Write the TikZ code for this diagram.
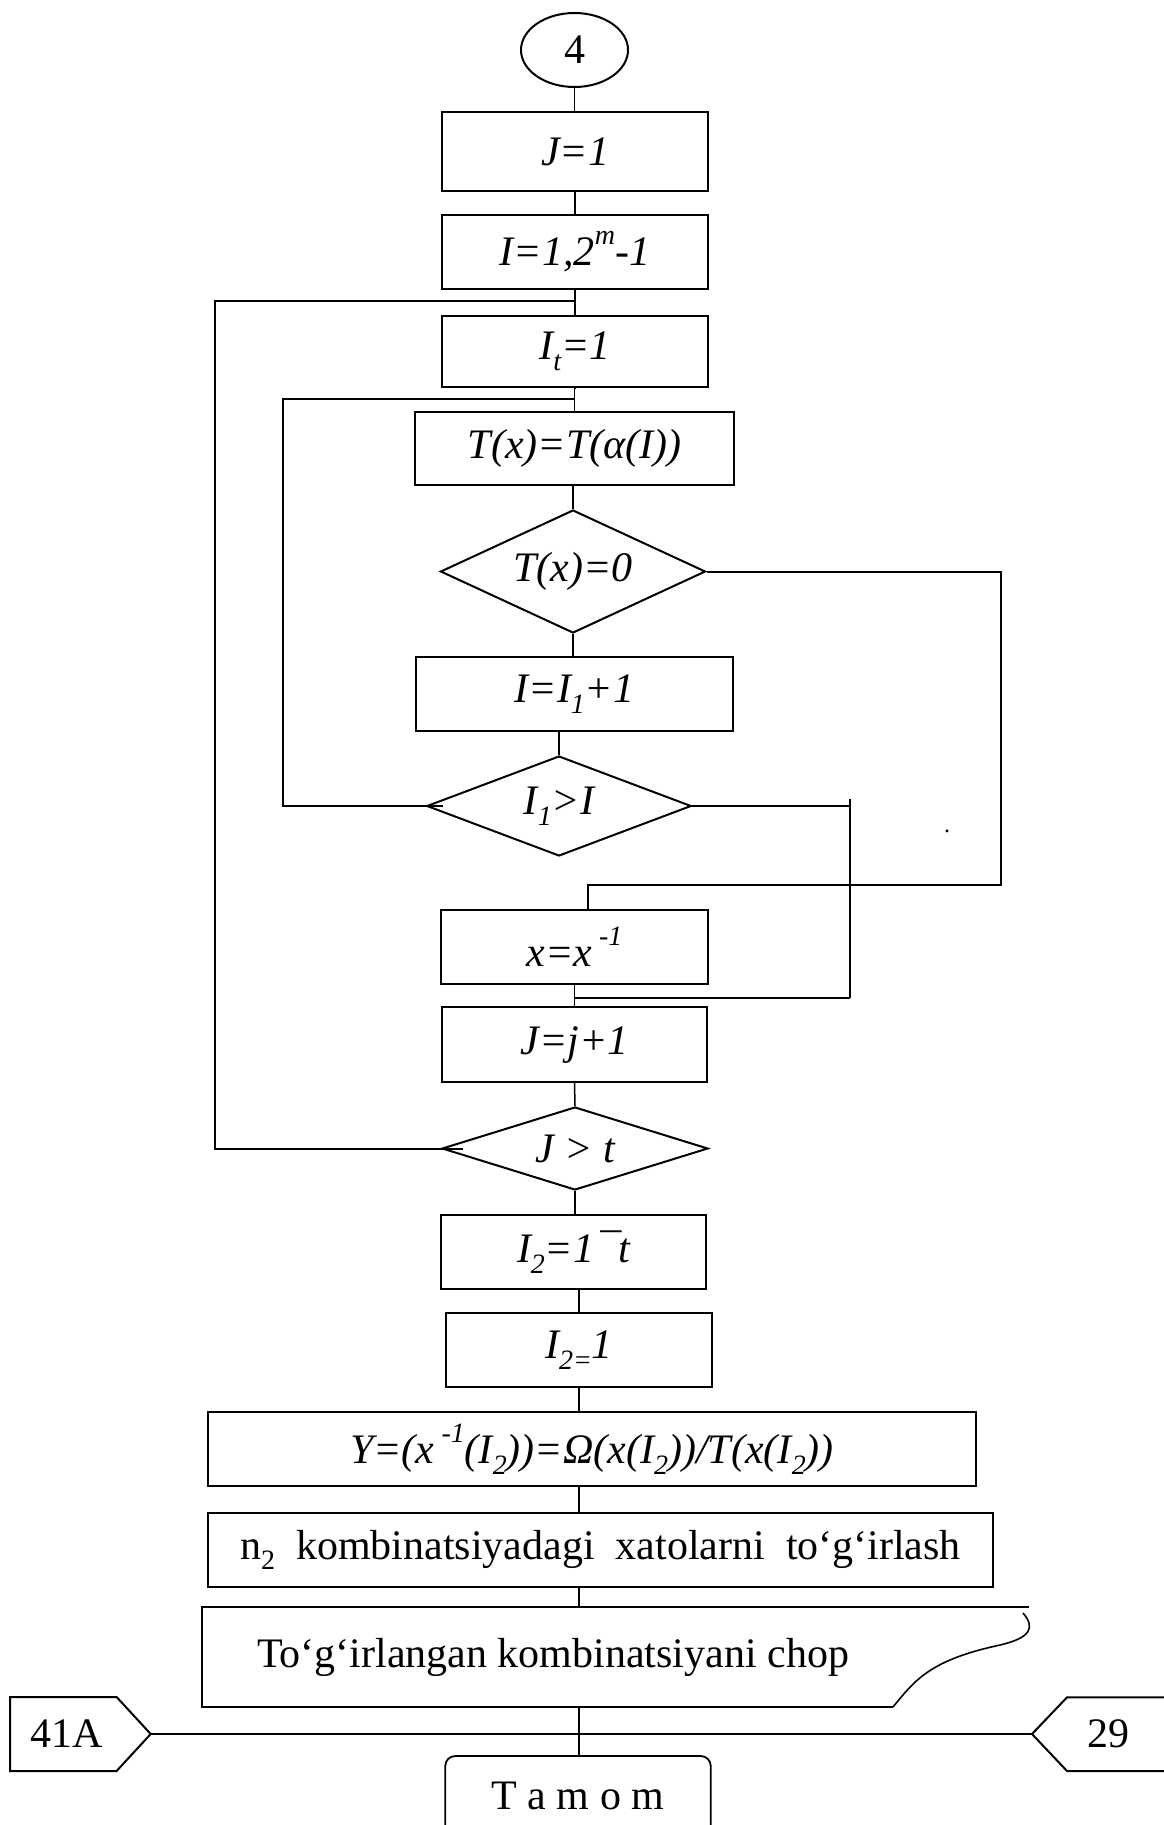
\documentclass[tikz,border=0pt]{standalone}
\usepackage{fontspec}
\setmainfont{Liberation Serif}
\usetikzlibrary{shapes.geometric}
\newcommand{\subx}[1]{\raisebox{-0.25em}{\fontsize{28}{28}\selectfont #1}}
\newcommand{\supx}[1]{\raisebox{0.5em}{\fontsize{28}{28}\selectfont #1}}
\begin{document}
\begin{tikzpicture}[x=1pt,y=-1pt,
  every node/.style={font=\fontsize{42}{46}\selectfont, inner sep=0pt},
  box/.style={draw, line width=2pt, rectangle, minimum width=266pt, minimum height=76pt},
  dia/.style={draw, line width=2pt, diamond},
  conn/.style={line width=1.5pt},
  lp/.style={line width=2pt}]
\useasboundingbox (0,0) rectangle (1164,1825);
\fill[white] (0,0) rectangle (1164,1825);
\clip (0,0) rectangle (1164,1825);

% nodes
\node[draw, line width=2pt, ellipse, minimum width=107pt, minimum height=74pt] (n4) at (574.5,50) {4};
\node[box, minimum height=79pt] (j1) at (575,151.5) {\itshape J=1};
\node[box, minimum height=74pt] (ii) at (575,252) {\itshape I=1,2\supx{m}-1};
\node[box, minimum height=71pt] (it) at (575,351.5) {\itshape I\subx{t}=1};
\node[box, minimum width=319pt, minimum height=73pt] (tx) at (574.5,448.5) {\itshape T(x)=T(α(I))};
\node[dia, minimum width=265pt, minimum height=123pt, shape aspect=2.15] (d1) at (573,571.5) {\itshape T(x)=0};
\node[box, minimum width=317pt, minimum height=74pt] (ii1) at (574.5,694) {\itshape I=I\subx{1}+1};
\node[dia, minimum width=264.5pt, minimum height=100pt, shape aspect=2.64] (d2) at (559,806) {\itshape I\subx{1}>I};
\node[box, minimum width=267pt, minimum height=74pt] (xx) at (574.5,947) {\itshape x=x\,\supx{-1}};
\node[box, minimum width=265pt, minimum height=74.5pt] (jj) at (574.5,1044.7) {\itshape J=j+1};
\node[dia, minimum width=266pt, minimum height=83pt, shape aspect=3.2] (d3) at (575,1148.5) {\itshape J > t};
\node[box, minimum width=265pt, minimum height=74pt] (i2t) at (573.5,1252) {\itshape I\subx{2}=1\kern3pt¯t};
\node[box, minimum width=266pt, minimum height=74pt] (i21) at (579,1350) {\itshape I\subx{2=}1};
\node[box, minimum width=768pt, minimum height=74pt] (yy) at (592,1449) {\itshape Y=(x\,\supx{-1}(I\subx{2}))=Ω(x(I\subx{2}))/T(x(I\subx{2}))};
\node[box, minimum width=785pt, minimum height=74pt] (n2) at (600.5,1550) {n\subx{2}\ \ kombinatsiyadagi\ \ xatolarni\ \ to‘g‘irlash};

% document (print) shape
\draw[line width=2pt] (1029,1607) -- (202,1607) -- (202,1707) -- (893,1707);
\draw[line width=1.6pt] (1023,1613) .. controls (1036,1628) and (1030,1638) .. (1000,1645)
   .. controls (930,1660) and (915,1680) .. (893,1707);
\node[anchor=base] (doc) at (553,1667) {To‘g‘irlangan kombinatsiyani chop};
\coordinate (doctop) at (579,1607);
\coordinate (docbot) at (579,1707);

% terminal
\node[draw, line width=1.8pt, rounded corners=10pt, minimum width=265.5pt, minimum height=80pt] (tam) at (578,1796) {T a m o m};

% off-page connectors
\draw[line width=2pt] (10,1697) -- (116.6,1697) -- (150.7,1734) -- (116.6,1771) -- (10,1771) -- cycle;
\node (c41) at (67,1734) {41A};
\coordinate (c41p) at (150.7,1734);
\draw[line width=2pt] (1170,1697.3) -- (1067,1697.3) -- (1032,1734) -- (1067,1771) -- (1170,1771);
\node (c29) at (1108,1734) {29};
\coordinate (c29p) at (1032,1734);

% stray dot
\node[anchor=base, font=\fontsize{24}{24}\selectfont] (dot) at (947,832) {.};

% straight connectors
\coordinate (cx) at (579,0);
\draw[conn] (n4.south) -- (n4.south |- j1.north);
\draw[conn] (j1.south) -- (ii.north);
\draw[conn] (ii.south) -- (it.north);
\draw[conn] (it.south) -- (tx.south |- it.south) -- (tx.north);
\draw[conn] (d1.north |- tx.south) -- (d1.north);
\draw[conn] (d1.south) -- (d1.south |- ii1.north);
\draw[conn] (d2.north |- ii1.south) -- (d2.north);
\draw[conn] (xx.south) -- (jj.north);
\draw[conn] (jj.south) -- (d3.north);
\draw[conn] (d3.south) -- (d3.south |- i2t.north);
\draw[conn] (i2t.south -| cx) -- (i21.north -| cx);
\draw[conn] (i21.south -| cx) -- (yy.north -| cx);
\draw[conn] (yy.south -| cx) -- (n2.north -| cx);
\draw[conn] (n2.south -| cx) -- (doctop);
\draw[conn] (docbot) -- (tam.north -| cx);
\draw[conn] (c41p) -- (c29p);

% outer loop
\coordinate (ol) at (215,301);
\coordinate (olb) at (215,1148.5);
\coordinate (olend) at (463,1148.5);
\draw[lp] (ii.south |- ol) -- (ol) -- (olb) -- (olend);

% inner loop
\coordinate (il) at (283,399);
\coordinate (ilb) at (283,806);
\coordinate (ilend) at (443,806);
\draw[lp] (it.south |- il) -- (il) -- (ilb) -- (ilend);

% right branch of T(x)=0
\coordinate (r1) at (1001,573);
\coordinate (r2) at (1001,885);
\coordinate (r3) at (588,885);
\draw[lp] (d1.east) -- (d1.east -| r1) -- (r2) -- (r3) -- (r3 |- xx.north);

% right branch of I1>I
\coordinate (q1) at (849.5,799);
\coordinate (q2) at (849.5,998);
\draw[lp] (d2.east) -- (d2.east -| q1);
\draw[lp] (q1) -- (q2);
\draw[lp] (q2) -- (q2 -| xx.south);
\end{tikzpicture}
\end{document}
